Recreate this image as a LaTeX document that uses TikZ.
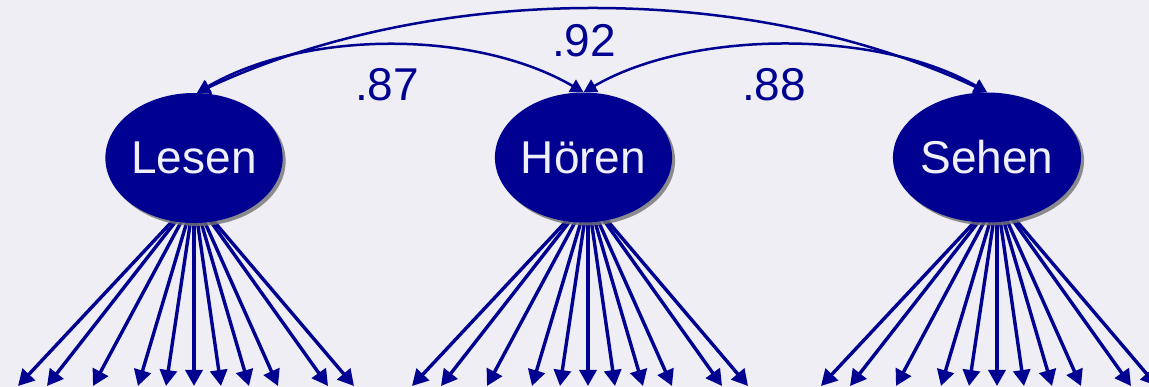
\documentclass[tikz,border=0pt]{standalone}
\usepackage{fontspec}
\setmainfont{Liberation Sans}
\usetikzlibrary{arrows.meta,shapes.geometric,shadows}
\definecolor{bgc}{RGB}{239,238,245}
\definecolor{dblue}{RGB}{0,0,145}
\definecolor{txtw}{RGB}{240,240,250}
\begin{document}
\begin{tikzpicture}[x=1pt,y=-1pt,
 latent/.style={ellipse, fill=dblue, minimum width=169pt, minimum height=130pt, inner sep=0pt,
   text=txtw, font=\fontsize{46}{50}\selectfont,
   drop shadow={shadow xshift=3pt, shadow yshift=-3pt, fill=black!55, opacity=0.8}},
 load/.style={draw=dblue, line width=3.4pt, -{Triangle[length=16pt,width=17pt]}},
 cov/.style={draw=dblue, line width=2.5pt, {Triangle[length=13pt,width=14pt]}-{Triangle[length=13pt,width=14pt]}},
 lab/.style={text=dblue, font=\fontsize{46}{50}\selectfont, inner sep=0pt}]
\fill[bgc] (0,0) rectangle (1149,387);
\useasboundingbox (0,0) rectangle (1149,387);
\clip (0,0) rectangle (1149,387);
% loading arrows
\foreach \n/\cx in {L/194, H/588, S/997} {
  \coordinate (\n-src) at (\cx,198);
  \foreach \o [count=\k] in {-176,-147,-101,-56,-28,0,27,55,84,134,160} {
    \coordinate (\n-t\k) at (\cx+\o,386);
    \draw[load] (\n-src) -- (\n-t\k);
  }
}
% latent factors
\node[latent] (L) at (194,158) {Lesen};
\node[latent] (H) at (583.5,157.5) {Hören};
\node[latent] (S) at (987,157.5) {Sehen};
% covariances
\draw[cov] ([xshift=3pt]L.north) .. controls +(108,-63) and +(-108,-63) .. (H.north);
\draw[cov] (H.north) .. controls +(108,-63) and +(-108,-63) .. (S.north);
\draw[cov] ([xshift=3pt]L.north) .. controls +(238,-111) and +(-238,-111) .. (S.north);
% labels
\node[lab] (r87) at (387,85) {.87};
\node[lab] (r92) at (584,41) {.92};
\node[lab] (r88) at (774,85) {.88};
\end{tikzpicture}
\end{document}
